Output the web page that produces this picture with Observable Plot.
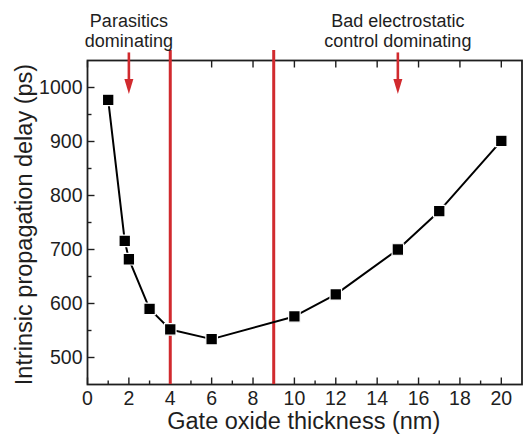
<!DOCTYPE html>
<html><head><meta charset="utf-8">
<script src="https://cdn.jsdelivr.net/npm/d3@7"></script>
<script src="https://cdn.jsdelivr.net/npm/@observablehq/plot@0.6"></script>
<style>body{margin:0;background:#fff;}</style>
</head><body><div id="chart"></div>
<script>
const thickness = [1, 1.8, 2, 3, 4, 6, 10, 12, 15, 17, 20];
const delay = [977, 716, 682, 590, 552, 534, 576, 617, 700, 771, 901];
const regionBounds = [4, 9];
const arrowX = [2, 15];
const annotations = ["Parasitics\ndominating", "Bad electrostatic\ncontrol dominating"];
const xMajor = [0, 2, 4, 6, 8, 10, 12, 14, 16, 18, 20];
const xMinor = [1, 3, 5, 7, 9, 11, 13, 15, 17, 19];
const yMajor = [500, 600, 700, 800, 900, 1000];
const yMinor = [550, 650, 750, 850, 950];
const xTitle = "Gate oxide thickness (nm)";
const yTitle = "Intrinsic propagation delay (ps)";

const data = thickness.map((x, i) => ({x, y: delay[i]}));
const red = "#d12a2e";
const ink = "#1e1e1e";
const font = "Liberation Sans, Arial, sans-serif";

const upTick = len => ({draw(ctx) { ctx.moveTo(0, 0); ctx.lineTo(0, -len); }});
const downTick = len => ({draw(ctx) { ctx.moveTo(0, 0); ctx.lineTo(0, len); }});
const rightTick = len => ({draw(ctx) { ctx.moveTo(0, 0); ctx.lineTo(len, 0); }});
const headSym = {draw(ctx) { ctx.moveTo(-4.5, -7.5); ctx.lineTo(4.5, -7.5); ctx.lineTo(0, 7.5); ctx.closePath(); }};

const chart = Plot.plot({
  width: 523, height: 434,
  marginLeft: 87, marginRight: 1.5, marginTop: 60, marginBottom: 50,
  style: {fontFamily: font, background: "#fff", color: ink},
  x: {domain: [0, 21]},
  y: {domain: [450, 1050]},
  marks: [
    Plot.axisX(xMajor, {tickSize: 0, tickPadding: 7, fontSize: 19.5, label: null, fill: ink}),
    Plot.axisY(yMajor, {tickSize: 0, tickPadding: 5, fontSize: 19.5, label: null, fill: ink, tickFormat: "d"}),
    Plot.dot(xMajor, {x: d => d, frameAnchor: "bottom", symbol: upTick(7), stroke: ink, strokeWidth: 1.4}),
    Plot.dot(xMinor, {x: d => d, frameAnchor: "bottom", symbol: upTick(4), stroke: ink, strokeWidth: 1.4}),
    Plot.dot(xMajor, {x: d => d, frameAnchor: "top", symbol: downTick(7), stroke: ink, strokeWidth: 1.4}),
    Plot.dot(yMajor, {y: d => d, frameAnchor: "left", symbol: rightTick(7), stroke: ink, strokeWidth: 1.4}),
    Plot.dot(yMinor, {y: d => d, frameAnchor: "left", symbol: rightTick(4), stroke: ink, strokeWidth: 1.4}),
    Plot.frame({stroke: ink, strokeWidth: 1.8}),
    Plot.ruleX(regionBounds, {x: d => d, stroke: red, strokeWidth: 3, insetTop: -10}),
    Plot.line(data, {x: "x", y: "y", stroke: "#000", strokeWidth: 2}),
    Plot.dot(data, {x: "x", y: "y", symbol: "square", r: 6.5, fill: "#000", stroke: "#fff", strokeWidth: 1.2}),
    Plot.ruleX(arrowX, {x: d => d, y1: 1064, y2: 1010, stroke: red, strokeWidth: 2.6}),
    Plot.dot(arrowX, {x: d => d, y: 1002, symbol: headSym, fill: red, stroke: null}),
    Plot.text(annotations, {x: (d, i) => arrowX[i], text: d => d, frameAnchor: "top", dy: -14, lineAnchor: "bottom", fontSize: 18, lineHeight: 1.07, fill: ink}),
    Plot.text([xTitle], {text: d => d, frameAnchor: "bottom", dy: 44.5, dx: -1, lineAnchor: "bottom", fontSize: 23.5, fill: ink}),
    Plot.text([yTitle], {text: d => d, frameAnchor: "left", dx: -63, dy: 2, rotate: -90, textAnchor: "middle", lineAnchor: "middle", fontSize: 23.5, fill: ink})
  ]
});
document.getElementById("chart").append(chart);
</script>
</body></html>
